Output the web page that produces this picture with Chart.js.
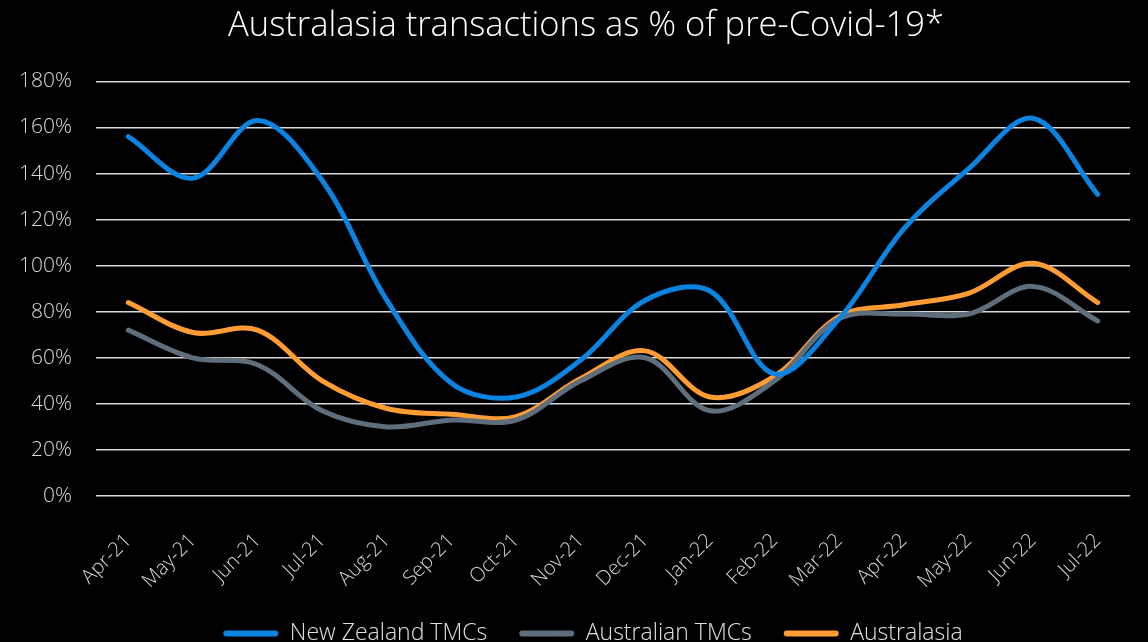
<!DOCTYPE html>
<html><head><meta charset="utf-8">
<script src="https://cdn.jsdelivr.net/npm/chart.js@4"></script>
<style>html,body{margin:0;padding:0;background:#000;}#wrap{width:1148px;height:642px;}</style>
</head><body><div id="wrap"><canvas id="c" width="1148" height="642"></canvas></div>
<script>
const categories = ['Apr-21','May-21','Jun-21','Jul-21','Aug-21','Sep-21','Oct-21','Nov-21','Dec-21','Jan-22','Feb-22','Mar-22','Apr-22','May-22','Jun-22','Jul-22'];
const newZealandTMCs = [156,138,163,137,85,49,43,59,85,89,53,77,116,142,164,131];
const australianTMCs = [72,60,57,37,30,33,33,50,60,37,50,77,79,79,91,76];
const australasia = [84,71,72,50,38,35.5,34.5,51,63,43,52,78,83,88,101,84];
const yTicks = [0,20,40,60,80,100,120,140,160,180];

const FONT = "'Open Sans', 'Noto Sans', sans-serif";
const mk = (label, data, color) => ({label, data, borderColor: color, backgroundColor: color, borderWidth: 5, pointRadius: 0, tension: 0.35, borderCapStyle: 'round', borderJoinStyle: 'round', fill: false});

const shiftBlocks = {
  id: 'shiftBlocks',
  afterLayout(chart) {
    if (chart.titleBlock) chart.titleBlock.left += 34;
    if (chart.legend) chart.legend.left += 48;
  }
};

new Chart(document.getElementById('c'), {
  type: 'line',
  data: {labels: categories, datasets: [
    mk('New Zealand TMCs', newZealandTMCs, '#0a84e0'),
    mk('Australian TMCs', australianTMCs, '#5f6e7c'),
    mk('Australasia', australasia, '#ff9c33')
  ]},
  plugins: [shiftBlocks],
  options: {
    responsive: false, animation: false, devicePixelRatio: 1,
    layout: {padding: {left: 0, right: 10, top: 0, bottom: -13}},
    plugins: {
      title: {display: true, text: 'Australasia transactions as % of pre-Covid-19*', color: '#ffffff', font: {family: FONT, size: 34.5, weight: '300'}, padding: {top: 5, bottom: 35}},
      legend: {position: 'bottom', labels: {color: '#e0e0e0', font: {family: FONT, size: 23, weight: '300'}, boxWidth: 55, boxHeight: 6, useBorderRadius: true, borderRadius: 3, padding: 32,
        generateLabels: (chart) => Chart.defaults.plugins.legend.labels.generateLabels(chart).map(it => Object.assign(it, {lineWidth: 0}))}},
      tooltip: {enabled: false}
    },
    scales: {
      x: {offset: true, grid: {display: false, drawTicks: false}, border: {display: false},
          afterFit: (s) => { s.height = 94; },
          ticks: {color: '#d9d9d9', font: {family: FONT, size: 20, weight: '300'}, maxRotation: 45, minRotation: 45, padding: 33, autoSkip: false}},
      y: {min: 0, max: 180, afterBuildTicks: (s) => { s.ticks = yTicks.map(v => ({value: v})); },
          afterFit: (s) => { s.width = 96; },
          grid: {color: '#d9d9d9', lineWidth: 1.5, drawTicks: false}, border: {display: false},
          ticks: {color: '#d9d9d9', font: {family: FONT, size: 21, weight: '300'}, padding: 24, callback: v => v + '%'}}
    }
  }
});
</script></body></html>
